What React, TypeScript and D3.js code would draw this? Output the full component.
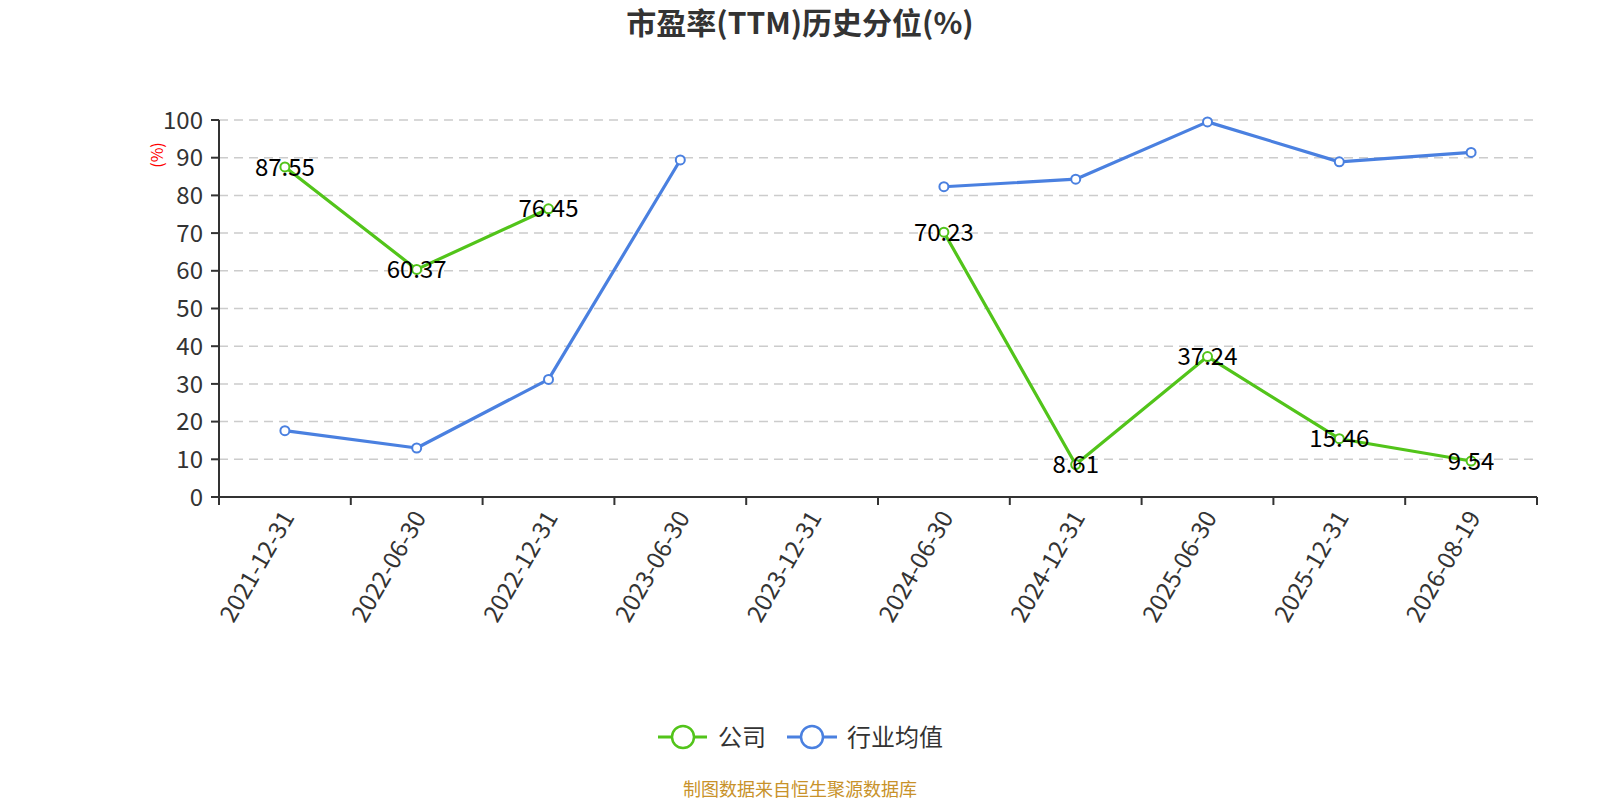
import React from "react";
import * as d3 from "d3";

const categories = [
  "2021-12-31",
  "2022-06-30",
  "2022-12-31",
  "2023-06-30",
  "2023-12-31",
  "2024-06-30",
  "2024-12-31",
  "2025-06-30",
  "2025-12-31",
  "2026-08-19",
];
const companyValues: (number | null)[] = [87.55, 60.37, 76.45, null, null, 70.23, 8.61, 37.24, 15.46, 9.54];
const industryValues: (number | null)[] = [17.6, 13.0, 31.2, 89.4, null, 82.3, 84.3, 99.5, 88.9, 91.4];
const yTicks = [0, 10, 20, 30, 40, 50, 60, 70, 80, 90, 100];

const GREEN = "#52c41a";
const BLUE = "#4a80e0";
const FONT = "'Noto Sans CJK SC', 'Noto Sans', sans-serif";

function App() {
  const width = 1600;
  const height = 800;
  const left = 219;
  const right = 1537;
  const top = 120;
  const bottom = 497;

  const x = d3.scaleBand<string>().domain(categories).range([left, right]);
  const y = d3.scaleLinear().domain([0, 100]).range([bottom, top]);
  const cx = (c: string) => (x(c) ?? 0) + x.bandwidth() / 2;

  const line = d3
    .line<number | null>()
    .defined((d) => d != null)
    .x((_, i) => cx(categories[i]))
    .y((d) => y(d as number));

  const series = [
    { name: "公司", color: GREEN, values: companyValues },
    { name: "行业均值", color: BLUE, values: industryValues },
  ];

  return (
    <div style={{ position: "fixed", left: 0, top: 0 }}>
      <svg width={width} height={height} style={{ display: "block", background: "#fff", fontFamily: FONT }}>
        <text x={800} y={34} textAnchor="middle" fontSize={30} fontWeight="bold" fill="#333">
          市盈率(TTM)历史分位(%)
        </text>

        {/* grid */}
        {yTicks.map((t) =>
          t === 0 ? null : (
            <line key={"g" + t} x1={left} x2={right} y1={y(t)} y2={y(t)} stroke="#ccc" strokeWidth={1.5} strokeDasharray="9 6" />
          )
        )}

        {/* y axis */}
        <line x1={left} x2={left} y1={top} y2={bottom} stroke="#333" strokeWidth={2} />
        {yTicks.map((t) => (
          <g key={"y" + t}>
            <line x1={left - 8} x2={left} y1={y(t)} y2={y(t)} stroke="#333" strokeWidth={2} />
            <text x={left - 16} y={y(t)} dy="0.36em" textAnchor="end" fontSize={24} fill="#333">
              {t}
            </text>
          </g>
        ))}
        <text transform={`translate(157,155) rotate(-90)`} textAnchor="middle" dy="0.35em" fontSize={16} fill="red">
          (%)
        </text>

        {/* x axis */}
        <line x1={left} x2={right} y1={bottom} y2={bottom} stroke="#333" strokeWidth={2} />
        {[...categories.map((c) => x(c) ?? 0), right].map((p, i) => (
          <line key={"xt" + i} x1={p} x2={p} y1={bottom} y2={bottom + 8} stroke="#333" strokeWidth={2} />
        ))}
        {categories.map((c) => (
          <text
            key={"xl" + c}
            transform={`translate(${cx(c) + 3},${bottom + 16}) rotate(-60)`}
            textAnchor="end"
            dy="0.35em"
            fontSize={24}
            fill="#333"
          >
            {c}
          </text>
        ))}

        {/* series */}
        {series.map((s) => (
          <g key={s.name}>
            <path d={line(s.values) ?? ""} fill="none" stroke={s.color} strokeWidth={3.2} strokeLinejoin="round" />
            {s.values.map((v, i) =>
              v == null ? null : (
                <circle key={i} cx={cx(categories[i])} cy={y(v)} r={4.5} fill="#fff" stroke={s.color} strokeWidth={2} />
              )
            )}
          </g>
        ))}
        {companyValues.map((v, i) =>
          v == null ? null : (
            <text key={"lb" + i} x={cx(categories[i])} y={y(v)} dy="0.36em" textAnchor="middle" fontSize={24} fill="#000">
              {v.toFixed(2)}
            </text>
          )
        )}

        {/* legend */}
        <g>
          <line x1={658} x2={707} y1={737} y2={737} stroke={GREEN} strokeWidth={3} />
          <circle cx={683} cy={737} r={11} fill="#fff" stroke={GREEN} strokeWidth={2.5} />
          <text x={718} y={737} dy="0.36em" fontSize={24} fill="#333">公司</text>
          <line x1={787} x2={837} y1={737} y2={737} stroke={BLUE} strokeWidth={3} />
          <circle cx={812} cy={737} r={11} fill="#fff" stroke={BLUE} strokeWidth={2.5} />
          <text x={847} y={737} dy="0.36em" fontSize={24} fill="#333">行业均值</text>
        </g>

        <text x={800} y={790} dy="0.35em" textAnchor="middle" fontSize={18} fill="#c8922a">
          制图数据来自恒生聚源数据库
        </text>
      </svg>
    </div>
  );
}

export default App;
